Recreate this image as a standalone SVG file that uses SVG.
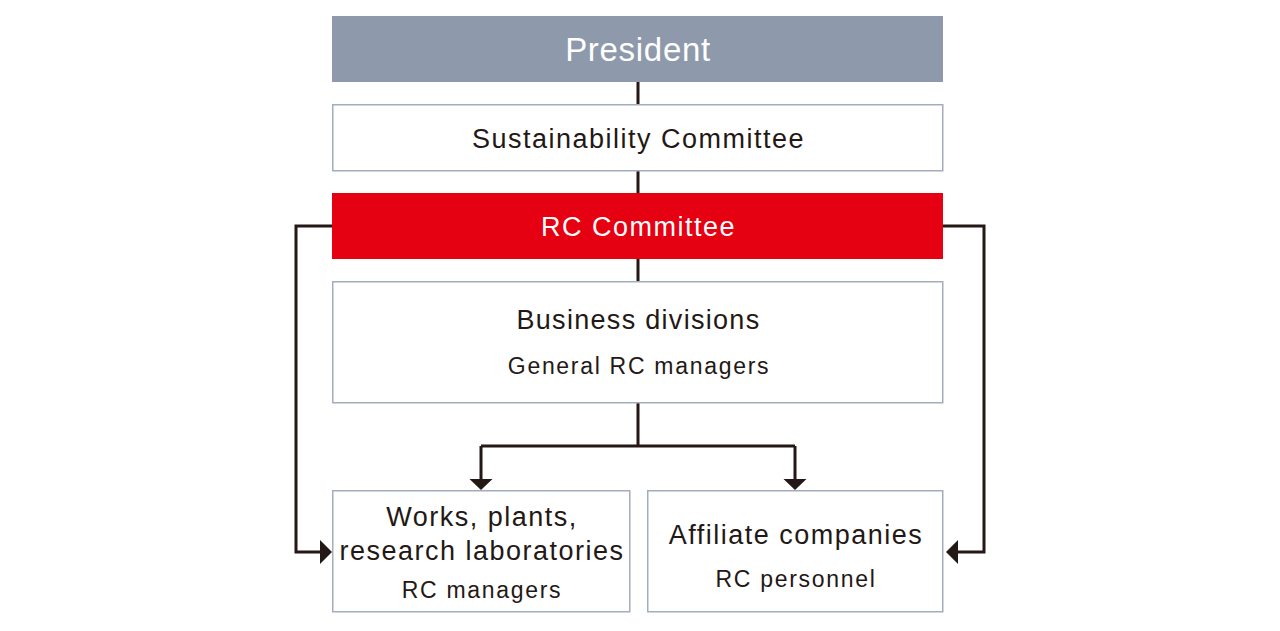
<svg xmlns="http://www.w3.org/2000/svg" width="1280" height="631" viewBox="0 0 1280 631">
<style>
.box{fill:#fff;stroke:#a3adbb;stroke-width:1.5}
.t{font-family:"Liberation Sans",Arial,sans-serif;fill:#231815;text-anchor:middle}
.big{font-size:27px;letter-spacing:1.5px}
.small{font-size:23px;letter-spacing:1.7px}
.ln{fill:none;stroke:#231815;stroke-width:3}
.ah{fill:#231815}
</style>
<rect width="1280" height="631" fill="#fff"/>
<g id="connectors">
<path class="ln" d="M638 82V104M638 171V193M638 259V281"/>
<path class="ln" d="M638 403V446M481 446H795M481 446V480M795 446V480"/>
<polygon class="ah" points="469.5,479 492.5,479 481,490"/>
<polygon class="ah" points="783.5,479 806.5,479 795,490"/>
<path class="ln" d="M332 226H296V552H321"/>
<polygon class="ah" points="320,540 332,552 320,564"/>
<path class="ln" d="M943 226H984V552H957"/>
<polygon class="ah" points="958,540 946,552 958,564"/>
</g>
<g id="president">
<rect x="332" y="16" width="611" height="66" fill="#8e9aab"/>
<text class="t" x="638" y="61" style="font-size:33px;letter-spacing:0.7px;fill:#fff">President</text>
</g>
<g id="sustainability">
<rect class="box" x="332.75" y="104.75" width="610" height="66"/>
<text class="t big" x="638.5" y="147.5">Sustainability Committee</text>
</g>
<g id="rc-committee">
<rect x="332" y="193" width="611" height="66" fill="#e50012"/>
<text class="t big" x="638.5" y="236" style="fill:#fff">RC Committee</text>
</g>
<g id="business">
<rect class="box" x="332.75" y="281.75" width="610" height="121"/>
<text class="t big" x="638.5" y="328.5" style="letter-spacing:1.3px">Business divisions</text>
<text class="t small" x="639" y="373.5">General RC managers</text>
</g>
<g id="works">
<rect class="box" x="332.75" y="490.75" width="297" height="121"/>
<text class="t big" x="482" y="526">Works, plants,</text>
<text class="t big" x="482" y="560">research laboratories</text>
<text class="t small" x="482" y="598">RC managers</text>
</g>
<g id="affiliates">
<rect class="box" x="647.75" y="490.75" width="295" height="121"/>
<text class="t big" x="796" y="544">Affiliate companies</text>
<text class="t small" x="796" y="587">RC personnel</text>
</g>
</svg>
